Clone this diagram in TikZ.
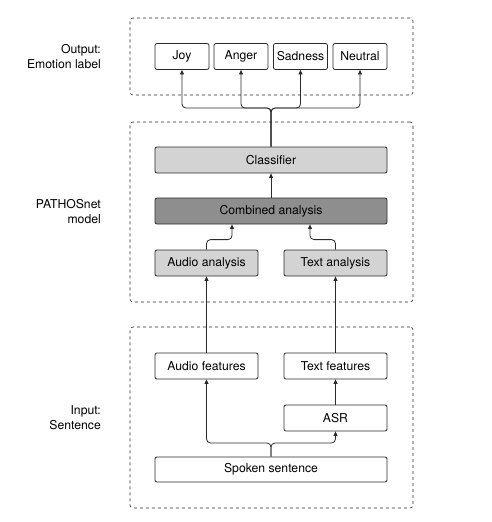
\documentclass[tikz,border=0pt]{standalone}
\usepackage{fontspec}
\setmainfont{TeX Gyre Heros}
\usetikzlibrary{arrows.meta}
\definecolor{lightfill}{HTML}{D3D3D3}
\definecolor{darkfill}{HTML}{8E8E8E}
\definecolor{edge}{HTML}{2A2A2A}
\tikzset{
  box/.style={draw=edge, line width=0.8pt, rounded corners=2pt, fill=white,
    minimum height=26pt, inner sep=0pt, font=\fontsize{12.2}{15}\selectfont},
  smallbox/.style={box, minimum width=54pt},
  halfbox/.style={box, minimum width=103pt},
  widebox/.style={box, minimum width=232pt},
  container/.style={draw=edge, dashed, line width=0.6pt, rounded corners=3pt,
    minimum width=283pt, inner sep=0pt},
  sidelabel/.style={anchor=east, align=right, inner sep=0pt,
    font=\fontsize{12.2}{15}\selectfont},
  arr/.style={draw=edge, line width=0.8pt, rounded corners=4pt,
    -{Triangle[length=4.5pt,width=4pt]}},
}
\begin{document}
\begin{tikzpicture}[x=1pt,y=-1pt]
\useasboundingbox (0,0) rectangle (492,522);
% containers
\node[container, minimum height=77pt] (outbox) at (271.5,56.5) {};
\node[container, minimum height=180pt] (modelbox) at (271.5,212) {};
\node[container, minimum height=181pt] (inbox) at (271.5,417.5) {};
% side labels
\node[sidelabel] (outlabel) at (101,57) {Output:\\Emotion label};
\node[sidelabel] (modellabel) at (101,211.5) {PATHOSnet\\model};
\node[sidelabel] (inlabel) at (101,417.5) {Input:\\Sentence};
% output boxes
\node[smallbox] (joy) at (182,56.5) {Joy};
\node[smallbox] (anger) at (241,56.5) {Anger};
\node[smallbox] (sadness) at (300.5,56.5) {Sadness};
\node[smallbox] (neutral) at (360,56.5) {Neutral};
% model
\node[widebox, fill=lightfill] (classifier) at (271,160) {Classifier};
\node[widebox, fill=darkfill] (combined) at (271,211) {Combined analysis};
\node[halfbox, fill=lightfill] (audioan) at (206.5,263) {Audio analysis};
\node[halfbox, fill=lightfill] (textan) at (335.5,263) {Text analysis};
% input
\node[halfbox] (audiofeat) at (206.5,366) {Audio features};
\node[halfbox] (textfeat) at (335.5,366) {Text features};
\node[halfbox] (asr) at (335.5,418) {ASR};
\node[widebox, minimum height=25pt] (spoken) at (271,469.5) {Spoken sentence};
% connectors
\coordinate (fork) at (271,108);
\draw[arr] (classifier.north) -- (fork) -| (joy.south);
\draw[arr] (classifier.north) -- (fork) -| (anger.south);
\draw[arr] (classifier.north) -- (fork) -| (sadness.south);
\draw[arr] (classifier.north) -- (fork) -| (neutral.south);
\draw[arr] (combined.north) -- (classifier.south);
\draw[arr] (audioan.north) -- ++(0,-10) -| ([xshift=-39pt]combined.south);
\draw[arr] (textan.north) -- ++(0,-10) -| ([xshift=39pt]combined.south);
\draw[arr] (audiofeat.north) -- (audioan.south);
\draw[arr] (textfeat.north) -- (textan.south);
\draw[arr] (asr.north) -- (textfeat.south);
\coordinate (split) at (271,443);
\draw[arr] (spoken.north) -- (split) -| (audiofeat.south);
\draw[arr] (spoken.north) -- (split) -| (asr.south);
\end{tikzpicture}
\end{document}
